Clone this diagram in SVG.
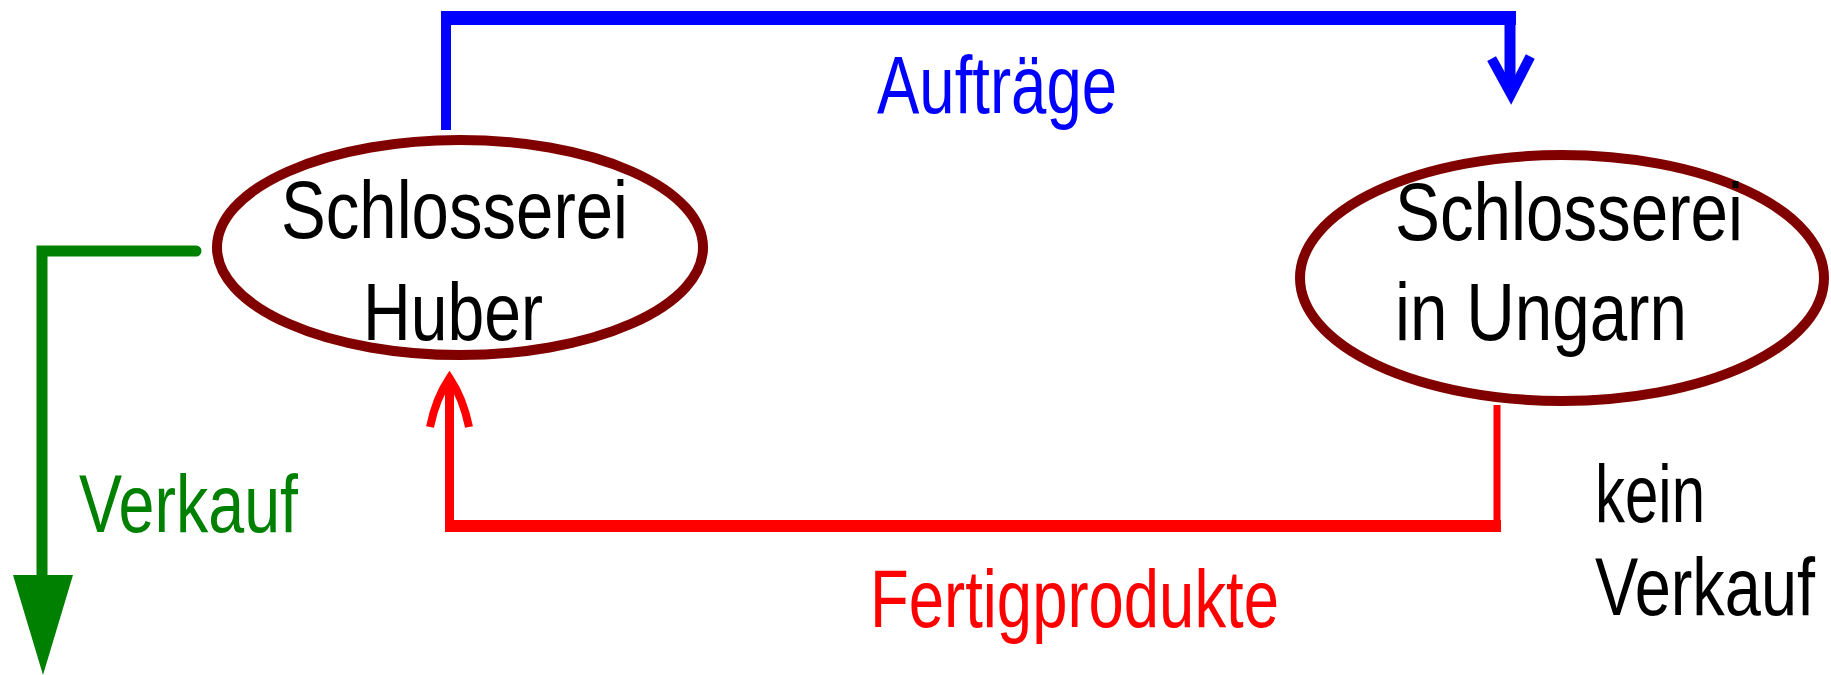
<svg xmlns="http://www.w3.org/2000/svg" width="1831" height="675" viewBox="0 0 1831 675">
  <style>
    .node ellipse { fill: #ffffff; stroke: #800000; stroke-width: 10; }
    text { font-family: "Liberation Sans", Arial, sans-serif; font-size: 82px; }
    .dark { fill: #000000; }
    .blue { fill: #0000ff; }
    .red { fill: #ff0000; }
    .green { fill: #008000; }
    .wire { fill: none; stroke-linejoin: miter; }
  </style>
  <rect width="1831" height="675" fill="#ffffff"/>

  <g id="connectors">
    <!-- Auftraege: Huber -> Ungarn -->
    <g id="edge-auftraege" stroke="#0000ff" class="wire">
      <path d="M446,130 V18" stroke-width="10"/>
      <path d="M441,18 H1516" stroke-width="14"/>
      <path d="M1510,18 V90" stroke-width="11"/>
      <path d="M1494,63 L1511,94 L1528,61" stroke-width="10" stroke-linecap="square"/>
    </g>
    <!-- Fertigprodukte: Ungarn -> Huber -->
    <g id="edge-fertigprodukte" stroke="#ff0000" class="wire">
      <path d="M1497,405 V532" stroke-width="7"/>
      <path d="M445,526 H1501" stroke-width="12"/>
      <path d="M449.5,532 V382" stroke-width="9"/>
      <path d="M430,427 Q436,398 449.5,378 Q463,398 469,427" stroke-width="8"/>
    </g>
    <!-- Verkauf: Huber -> outside -->
    <g id="edge-verkauf" stroke="#008000" class="wire">
      <path d="M196,251 H42 V580" stroke-width="11" stroke-linecap="round"/>
      <polygon points="13,575 73,575 43,675" fill="#008000" stroke="none"/>
    </g>
  </g>

  <g id="node-huber" class="node">
    <ellipse cx="460" cy="247.5" rx="243" ry="107.5"/>
    <text class="dark" x="281" y="238" textLength="347" lengthAdjust="spacingAndGlyphs">Schlosserei</text>
    <text class="dark" x="363" y="340" textLength="180" lengthAdjust="spacingAndGlyphs">Huber</text>
  </g>

  <g id="node-ungarn" class="node">
    <ellipse cx="1562" cy="278" rx="262" ry="123"/>
    <text class="dark" x="1395" y="240" textLength="348" lengthAdjust="spacingAndGlyphs">Schlosserei</text>
    <text class="dark" x="1395" y="340" textLength="292" lengthAdjust="spacingAndGlyphs">in Ungarn</text>
  </g>

  <g id="labels">
    <text class="blue" x="877" y="113" textLength="240" lengthAdjust="spacingAndGlyphs">Aufträge</text>
    <text class="green" x="79" y="532" textLength="219" lengthAdjust="spacingAndGlyphs">Verkauf</text>
    <text class="red" x="870" y="627" textLength="409" lengthAdjust="spacingAndGlyphs">Fertigprodukte</text>
    <text class="dark" x="1595" y="522" textLength="110" lengthAdjust="spacingAndGlyphs">kein</text>
    <text class="dark" x="1595" y="615" textLength="220" lengthAdjust="spacingAndGlyphs">Verkauf</text>
  </g>
</svg>
